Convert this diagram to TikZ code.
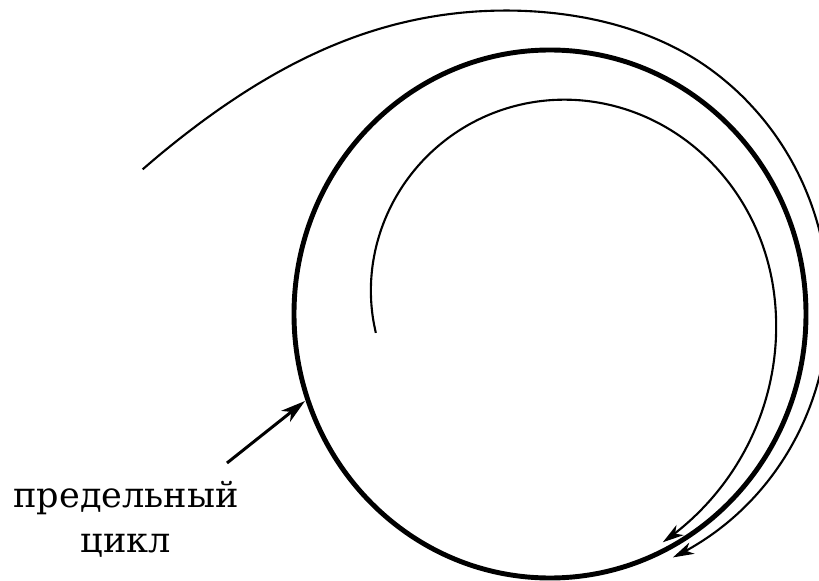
\documentclass[tikz,border=0pt]{standalone}
\usepackage{fontspec}
\setmainfont{DejaVu Serif}
\usepackage{tikz}
\usetikzlibrary{arrows.meta}
\tikzset{
  limcyc/.style={draw=black,line width=2.8pt},
  traj/.style={draw=black,line width=1.2pt,-{Stealth[length=12pt,width=7pt,inset=3.5pt]}},
  arr/.style={-{Stealth[length=14pt,width=8pt,inset=4pt]},draw=black,line width=1.7pt},
  lbl/.style={align=center,font=\fontsize{20}{25.6}\selectfont,inner sep=0pt},
  declare function={
    gin(\s)=0.316*exp(-0.0053*\s)-0.055*(max(0,\s-180)/69)^2;
    gout(\s)=0.563*exp(-\s/32-(\s/70)^4)+0.12-0.08*max(0.001,(\s-100)/123)^1.3;
  },
}
\begin{document}
\begin{tikzpicture}[x=0.02cm,y=-0.02cm]
  \useasboundingbox (0,0) rectangle (819,581);
  \clip (0,0) rectangle (819,581);
  % limit cycle
  \draw[limcyc] (550,314) ellipse [x radius=256,y radius=264];
  % trajectory from inside
  \draw[traj] plot[domain=0:249,samples=150,variable=\s,smooth]
    ({550+(1-gin(\s))*256*cos(186-\s)},{314-(1-gin(\s))*264*sin(186-\s)});
  % trajectory from outside
  \draw[traj] plot[domain=0:223.5,samples=150,variable=\s,smooth]
    ({550+(1+gout(\s))*256*cos(161-\s)},{314-(1+gout(\s))*264*sin(161-\s)});
  % label
  \node[lbl] (name) at (126,519) {предельный\\цикл};
  \coordinate (tail) at (227,463);
  \coordinate (hit) at (305,401);
  \draw[arr] (tail) -- (hit);
\end{tikzpicture}
\end{document}
